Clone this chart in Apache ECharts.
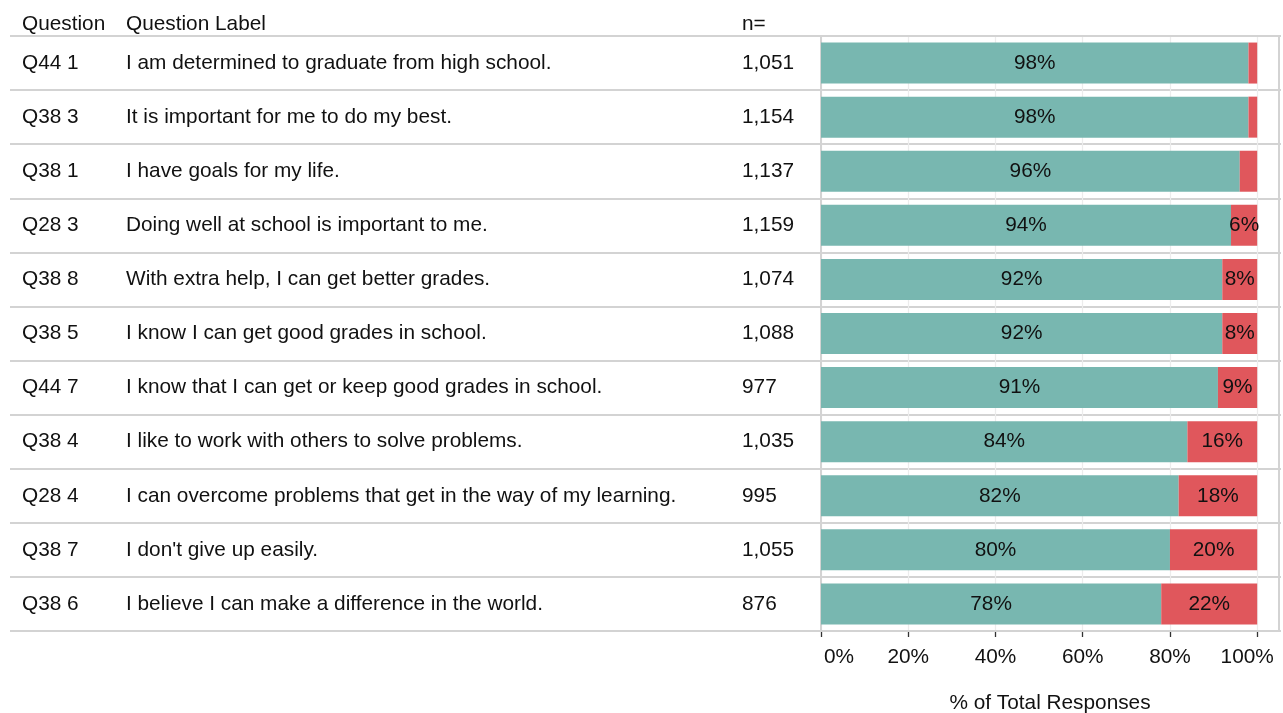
<!DOCTYPE html>
<html>
<head>
<meta charset="utf-8">
<title>% of Total Responses</title>
<script src="https://cdn.jsdelivr.net/npm/echarts@6/dist/echarts.min.js"></script>
<style>
  html, body { margin: 0; padding: 0; background: #ffffff; }
  #chart { width: 1283px; height: 713px; }
</style>
</head>
<body>
<div id="chart"></div>
<script>
// Survey items, top to bottom
const questionIds = ['Q44 1', 'Q38 3', 'Q38 1', 'Q28 3', 'Q38 8', 'Q38 5', 'Q44 7', 'Q38 4', 'Q28 4', 'Q38 7', 'Q38 6'];
const questionLabels = [
  'I am determined to graduate from high school.',
  'It is important for me to do my best.',
  'I have goals for my life.',
  'Doing well at school is important to me.',
  'With extra help, I can get better grades.',
  'I know I can get good grades in school.',
  'I know that I can get or keep good grades in school.',
  'I like to work with others to solve problems.',
  'I can overcome problems that get in the way of my learning.',
  "I don't give up easily.",
  'I believe I can make a difference in the world.'
];
const nResponses = [1051, 1154, 1137, 1159, 1074, 1088, 977, 1035, 995, 1055, 876];
// Percent of responses per item
const positivePct = [98, 98, 96, 94, 92, 92, 91, 84, 82, 80, 78];
const negativePct = [2, 2, 4, 6, 8, 8, 9, 16, 18, 20, 22];
const xTicks = [0, 20, 40, 60, 80, 100];

const FONT = 'Liberation Sans, Arial, sans-serif';
const FS = 20.8;
const TEAL = '#78B7B0';
const RED = '#E0575C';
const LINE = '#d3d3d3';
const INK = '#111111';

const chart = echarts.init(document.getElementById('chart'), null, { renderer: 'canvas' });

const rowIdx = questionIds.map((_, i) => i);

function textAxis(data, margin) {
  return {
    type: 'category',
    gridIndex: 0,
    inverse: true,
    data: data,
    position: 'left',
    axisLine: { show: false },
    axisTick: { show: false },
    splitLine: { show: false },
    axisLabel: {
      show: true,
      margin: margin,
      align: 'left',
      padding: [9, 0, 0, 0],
      fontFamily: FONT,
      fontSize: FS,
      color: INK,
      interval: 0
    }
  };
}

const option = {
  backgroundColor: '#ffffff',
  animation: false,
  textStyle: { fontFamily: FONT },
  grid: [
    // bar panel
    { left: 821, right: 4, top: 36, bottom: 82, outerBoundsMode: 'none', containLabel: false,
      show: true, borderColor: LINE, borderWidth: 2, backgroundColor: 'transparent', z: 3 },
    // full-width table rows
    { left: 10, right: 2, top: 36, bottom: 82, outerBoundsMode: 'none', containLabel: false, show: false, z: 1 }
  ],
  xAxis: [
    {
      type: 'value',
      gridIndex: 0,
      min: 0,
      max: 105,
      interval: 20,
      axisLine: { show: false },
      axisTick: {
        show: true, length: 6, customValues: xTicks,
        lineStyle: { color: '#333333', width: 1.3 }
      },
      splitLine: { show: true, lineStyle: { color: '#ececec', width: 1.2 } },
      axisLabel: {
        customValues: xTicks,
        margin: 16,
        fontFamily: FONT,
        fontSize: FS,
        color: INK,
        formatter: function (v) {
          if (v === 0) return '{lo|' + v + '%}';
          if (v === 100) return '{hi|' + v + '%}';
          return v + '%';
        },
        rich: {
          lo: { fontFamily: FONT, fontSize: FS, color: INK, padding: [0, 0, 0, 36] },
          hi: { fontFamily: FONT, fontSize: FS, color: INK, padding: [0, 20, 0, 0] }
        }
      },
      name: '% of Total Responses',
      nameLocation: 'middle',
      nameGap: 62,
      nameTextStyle: { fontFamily: FONT, fontSize: FS, color: INK }
    },
    { type: 'value', gridIndex: 1, show: false }
  ],
  yAxis: [
    {
      type: 'category',
      gridIndex: 0,
      inverse: true,
      data: rowIdx,
      axisLine: { show: false },
      axisTick: { show: false },
      axisLabel: { show: false },
      splitLine: { show: false }
    },
    textAxis(questionIds, 799),
    textAxis(questionLabels, 695),
    textAxis(nResponses.map(v => v.toLocaleString('en-US')), 79),
    {
      type: 'category',
      gridIndex: 1,
      inverse: true,
      data: rowIdx,
      axisLine: { show: false },
      axisTick: { show: false },
      axisLabel: { show: false },
      splitLine: { show: true, interval: 0, lineStyle: { color: LINE, width: 2 } }
    }
  ],
  graphic: [
    { type: 'text', left: 22, top: 14, style: { text: 'Question', fontFamily: FONT, fontSize: FS, fill: INK } },
    { type: 'text', left: 126, top: 14, style: { text: 'Question Label', fontFamily: FONT, fontSize: FS, fill: INK } },
    { type: 'text', left: 742, top: 14, style: { text: 'n=', fontFamily: FONT, fontSize: FS, fill: INK } }
  ],
  series: [
    {
      type: 'bar',
      name: 'positive',
      stack: 'total',
      xAxisIndex: 0,
      yAxisIndex: 0,
      data: positivePct,
      barWidth: 41,
      itemStyle: { color: TEAL },
      label: {
        show: true,
        position: 'inside',
        padding: [7, 0, 0, 0],
        fontFamily: FONT,
        fontSize: FS,
        color: INK,
        formatter: p => p.value + '%'
      },
      z: 4
    },
    {
      type: 'bar',
      name: 'negative',
      stack: 'total',
      xAxisIndex: 0,
      yAxisIndex: 0,
      data: negativePct,
      barWidth: 41,
      itemStyle: { color: RED },
      label: {
        show: true,
        position: 'inside',
        padding: [7, 0, 0, 0],
        fontFamily: FONT,
        fontSize: FS,
        color: INK,
        formatter: p => (p.value >= 5 ? p.value + '%' : '')
      },
      labelLayout: { hideOverlap: false },
      z: 4
    }
  ]
};

chart.setOption(option);
</script>
</body>
</html>
